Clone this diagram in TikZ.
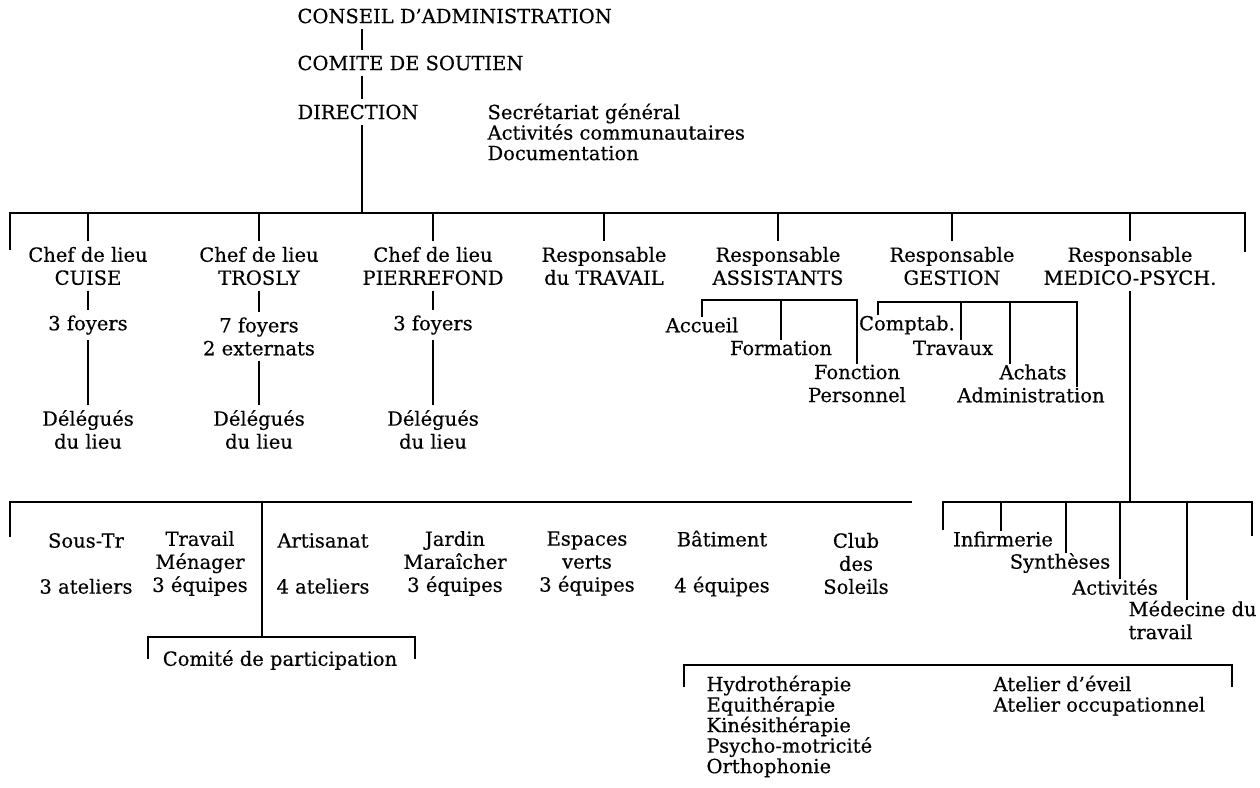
\documentclass[tikz,border=0pt]{standalone}
\usepackage{fontspec}
\setmainfont{DejaVu Serif}[FakeBold=0.4]
\usetikzlibrary{calc}

\tikzset{
  box/.style={inner sep=0pt, align=center, font=\fontsize{19.5}{23}\selectfont},
  list/.style={inner sep=0pt, align=left, anchor=north west, font=\fontsize{19.5}{20.5}\selectfont},
  link/.style={draw, shorten <=5pt, shorten >=5pt},
}

\begin{document}
\begin{tikzpicture}[x=1pt,y=-1pt,line width=1.1pt]
\useasboundingbox (0,0) rectangle (1260,787);

% direction
\node[box,anchor=west] (CA) at (297,16) {CONSEIL D'ADMINISTRATION};
\node[box,anchor=west] (CS) at (297,63) {COMITE DE SOUTIEN};
\node[box,anchor=west] (DIR) at (297,112) {DIRECTION};
\node[list] (SEC) at (487,103) {Secrétariat général\\Activités communautaires\\Documentation};
\coordinate (trunk) at (362,213);
\path (CA.south -| trunk) edge[link] (CS.north -| trunk)
      (CS.south -| trunk) edge[link] (DIR.north -| trunk);
\draw[shorten <=5pt] (DIR.south -| trunk) -- (trunk);

% first level
\coordinate (barL) at (10,213);
\coordinate (barR) at (1245,213);
\draw ($(barL)+(0,37)$) -- (barL) -- (barR) -- ++(0,39);

\node[box] (cuise)  at (88,266)   {Chef de lieu\\CUISE};
\node[box] (trosly) at (259,266)  {Chef de lieu\\TROSLY};
\node[box] (pierre) at (433,266)  {Chef de lieu\\PIERREFOND};
\node[box] (trav)   at (604,266)  {Responsable\\du TRAVAIL};
\node[box] (assist) at (778,266)  {Responsable\\ASSISTANTS};
\node[box] (gest)   at (952,266)  {Responsable\\GESTION};
\node[box] (medico) at (1130,266) {Responsable\\MEDICO-PSYCH.};
\foreach \n in {cuise,trosly,pierre,trav,assist,gest,medico}
  \path (\n.north |- barL) edge[draw, shorten >=5pt] (\n.north);

% lieux
\node[box] (cuiseF)  at (88,325)    {3 foyers};
\node[box] (troslyF) at (259,336.5) {7 foyers\\2 externats};
\node[box] (pierreF) at (433,325)   {3 foyers};
\node[box] (cuiseD)  at (88,429.5)  {Délégués\\du lieu};
\node[box] (troslyD) at (259,429.5) {Délégués\\du lieu};
\node[box] (pierreD) at (433,429.5) {Délégués\\du lieu};
\path (cuise) edge[link] (cuiseF)
      (cuiseF) edge[link] (cuiseD)
      (trosly) edge[link] (troslyF)
      (troslyF) edge[link] (troslyD)
      (pierre) edge[link] (pierreF)
      (pierreF) edge[link] (pierreD);

% assistants
\node[box] (acc) at (702,325)   {Accueil};
\node[box] (frm) at (781,348)   {Formation};
\node[box] (fon) at (857,383.5) {Fonction\\Personnel};
\coordinate (asb) at (778,300);
\draw (acc.north) -- (acc.north |- asb) -- (fon.north |- asb) -- (fon.north);
\draw (frm.north) -- (frm.north |- asb);

% gestion
\node[box] (cpt) at (907,325)  {Comptab.};
\node[box] (trx) at (953,348)  {Travaux};
\node[box] (ach) at (1033,372) {Achats};
\node[box] (adm) at (1031,395) {Administration};
\coordinate (gsb) at (952,302);
\coordinate (gA) at ([xshift=-29pt]cpt.north);
\coordinate (gB) at ([xshift=8pt]trx.north);
\coordinate (gC) at ([xshift=-23pt]ach.north);
\coordinate (gD) at ([xshift=46pt]adm.north);
\draw (gA) -- (gA |- gsb) -- (gD |- gsb) -- (gD);
\draw (gB) -- (gB |- gsb);
\draw (gC) -- (gC |- gsb);

% travail
\coordinate (wbL) at (10,502);
\coordinate (wbR) at (912,502);
\draw ($(wbL)+(0,35)$) -- (wbL) -- (wbR);
\node[box] (sous) at (86,563.5)  {Sous-Tr\\\mbox{}\\3 ateliers};
\node[box] (men)  at (200,563.5) {Travail\\Ménager\\3 équipes};
\node[box] (art)  at (323,563.5) {Artisanat\\\mbox{}\\4 ateliers};
\node[box] (jar)  at (455,563.5) {Jardin\\Maraîcher\\3 équipes};
\node[box] (esp)  at (587,563.5) {Espaces\\verts\\3 équipes};
\node[box] (bat)  at (722,563.5) {Bâtiment\\\mbox{}\\4 équipes};
\node[box] (club) at (856,563.5) {Club\\des\\Soleils};
\node[box] (cp)   at (280,660)   {Comité de participation};
\coordinate (wk) at (262,502);
\coordinate (cpL) at (148,637);
\coordinate (cpR) at (415,637);
\draw (wk) -- (wk |- cpL);
\draw ($(cpL)+(0,22)$) -- (cpL) -- (cpR) -- ++(0,22);

% medico-psych
\coordinate (mbL) at (943,502);
\coordinate (mbR) at (1252,502);
\draw[shorten <=5pt] (medico.south) -- (medico.south |- mbL);
\draw ($(mbL)+(0,28)$) -- (mbL) -- (mbR) -- ++(0,34);
\node[box] (inf) at (1003,539) {Infirmerie};
\node[box] (syn) at (1060,563) {Synthèses};
\node[box] (act) at (1115,587) {Activités};
\node[box,align=left,anchor=north west] (med) at (1128,600) {Médecine du\\travail};
\draw ([xshift=-2pt]inf.north) -- ([xshift=-2pt]inf.north |- mbL);
\draw ([xshift=6pt]syn.north) -- ([xshift=6pt]syn.north |- mbL);
\draw ([xshift=5pt]act.north) -- ([xshift=5pt]act.north |- mbL);
\draw ([xshift=59pt]med.north west) -- ([xshift=59pt]med.north west |- mbL);

% soins
\coordinate (sbL) at (684,665);
\coordinate (sbR) at (1232,665);
\draw ($(sbL)+(0,22)$) -- (sbL) -- (sbR) -- ++(0,22);
\node[list] (soin) at (706,675) {Hydrothérapie\\Equithérapie\\Kinésithérapie\\Psycho-motricité\\Orthophonie};
\node[list] (atel) at (993,675) {Atelier d'éveil\\Atelier occupationnel};
\end{tikzpicture}
\end{document}
